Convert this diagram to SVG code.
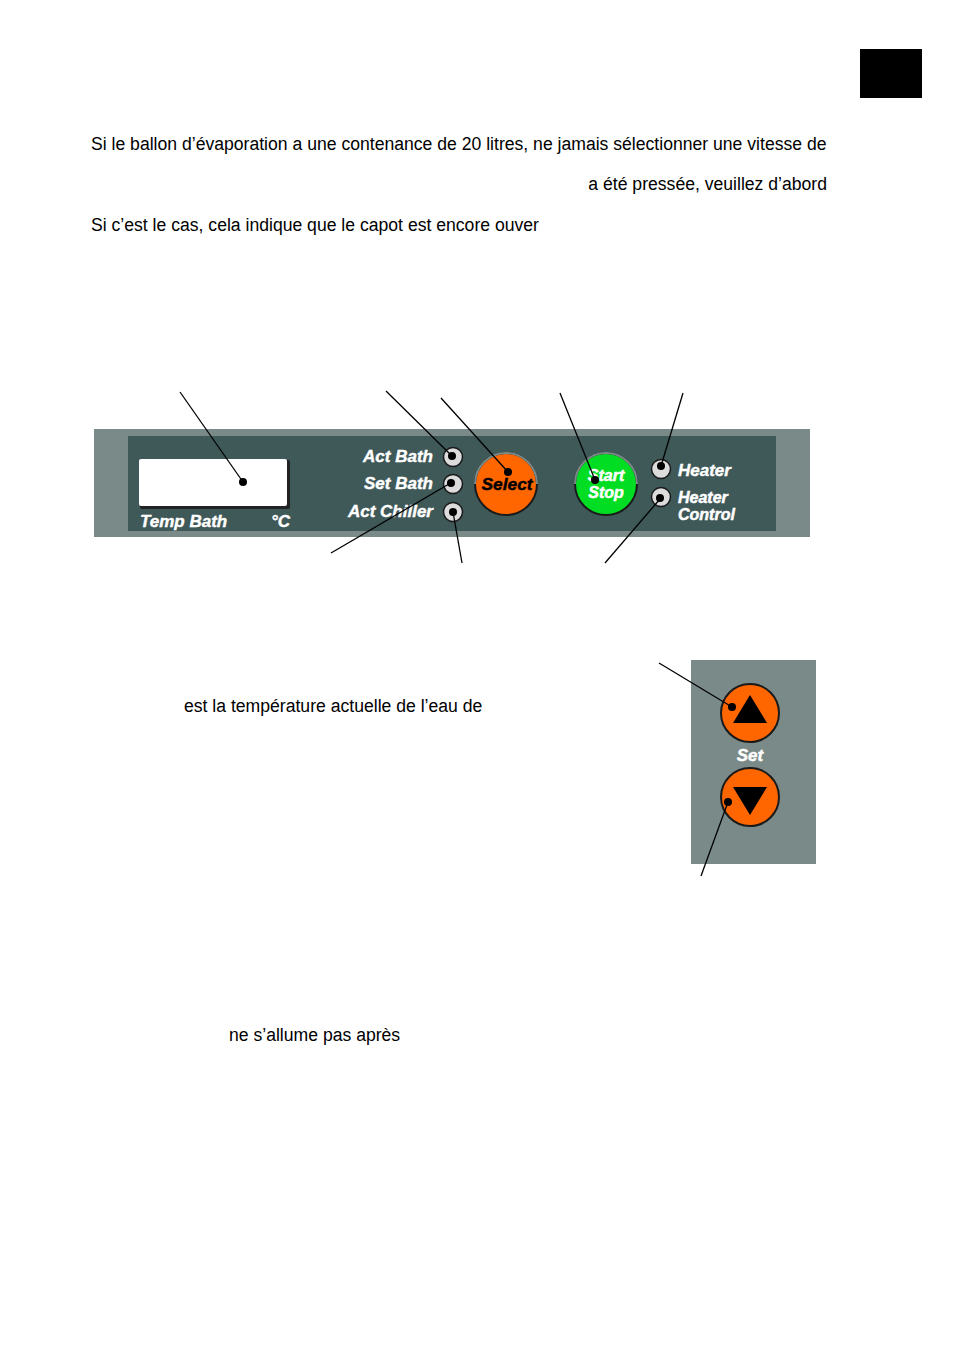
<svg xmlns="http://www.w3.org/2000/svg" width="954" height="1350" viewBox="0 0 954 1350">
<style>
.body{font-family:"Liberation Sans",Arial,sans-serif;font-size:17.6px;fill:#000}
.lbl{font-family:"Liberation Sans",Arial,sans-serif;font-weight:bold;font-style:italic;font-size:17px;fill:#fff;stroke:#fff;stroke-width:0.4}
.lbl2{font-family:"Liberation Sans",Arial,sans-serif;font-weight:bold;font-style:italic;font-size:16px;fill:#fff;stroke:#fff;stroke-width:0.5}
.ld{stroke:#000;stroke-width:1.3;fill:none}
.dot{fill:#000}
.led{fill:#dcdcdc;stroke:#1a1a1a;stroke-width:1.5}
</style>
<rect width="954" height="1350" fill="#fff"/>
<rect x="860" y="49" width="62" height="49" fill="#000"/>
<g id="texts">
<text class="body" x="91" y="150">Si le ballon d’évaporation a une contenance de 20 litres, ne jamais sélectionner une vitesse de</text>
<text class="body" x="827" y="190" text-anchor="end">a été pressée, veuillez d’abord</text>
<text class="body" x="91" y="231">Si c’est le cas, cela indique que le capot est encore ouver</text>
<text class="body" x="184" y="712">est la température actuelle de l’eau de</text>
<text class="body" x="229" y="1041">ne s’allume pas après</text>
</g>
<g id="panel">
<rect x="94" y="429" width="716" height="108" fill="#7a8a88"/>
<rect x="128" y="436" width="648" height="95" fill="#3f5858"/>
</g>
<g id="display">
<rect x="140" y="460" width="150" height="49" rx="2" fill="#222"/>
<rect x="139" y="459" width="148" height="47" rx="2" fill="#fff"/>
<text class="lbl" x="140" y="527">Temp Bath</text>
<text class="lbl" x="290" y="527" text-anchor="end">°C</text>
</g>
<g id="led-act-bath">
<circle class="led" cx="453" cy="457" r="9.5"/>
<text class="lbl" x="433" y="462" text-anchor="end">Act Bath</text>
</g>
<g id="led-set-bath">
<circle class="led" cx="453" cy="484" r="9.5"/>
<text class="lbl" x="433" y="489" text-anchor="end">Set Bath</text>
</g>
<g id="led-act-chiller">
<circle class="led" cx="453" cy="512" r="9.5"/>
<text class="lbl" x="433" y="517" text-anchor="end">Act Chiller</text>
</g>
<g id="btn-select">
<circle cx="506" cy="484" r="31" fill="#ff6600" stroke="#1a1a1a" stroke-width="2"/>
<path d="M475,484 A31,31 0 0 1 537,484" fill="none" stroke="#7a8a88" stroke-width="2"/>
<text x="507" y="490" text-anchor="middle" font-family="Liberation Sans,Arial,sans-serif" font-weight="bold" font-style="italic" font-size="17.4" fill="#000" stroke="#000" stroke-width="0.4">Select</text>
</g>
<g id="btn-start-stop">
<circle cx="606" cy="484" r="31" fill="#00dd22" stroke="#1a1a1a" stroke-width="2"/>
<path d="M575,484 A31,31 0 0 1 637,484" fill="none" stroke="#7a8a88" stroke-width="2"/>
<text class="lbl2" x="606" y="481" text-anchor="middle">Start</text>
<text class="lbl2" x="606" y="498" text-anchor="middle">Stop</text>
</g>
<g id="led-heater">
<circle class="led" cx="661" cy="469" r="9.5"/>
<text class="lbl" x="678" y="476">Heater</text>
</g>
<g id="led-heater-control">
<circle class="led" cx="661" cy="497" r="9.5"/>
<text class="lbl2" x="678" y="503">Heater</text>
<text class="lbl2" x="678" y="520">Control</text>
</g>
<g id="set-panel">
<rect x="691" y="660" width="125" height="204" fill="#7a8a88"/>
<circle cx="750" cy="713" r="29" fill="#ff6600" stroke="#1a1a1a" stroke-width="2"/>
<polygon points="750,695 767,723 733,723" fill="#000"/>
<text class="lbl" x="750" y="761" text-anchor="middle">Set</text>
<circle cx="750" cy="797" r="29" fill="#ff6600" stroke="#1a1a1a" stroke-width="2"/>
<polygon points="733,787 767,787 750,815" fill="#000"/>
</g>
<g id="connectors">
<line class="ld" x1="180" y1="392" x2="243" y2="482"/><circle class="dot" cx="243" cy="482" r="4"/>
<line class="ld" x1="386" y1="391" x2="452" y2="456"/><circle class="dot" cx="452" cy="456" r="4"/>
<line class="ld" x1="441" y1="398" x2="508" y2="472"/><circle class="dot" cx="508" cy="472" r="4"/>
<line class="ld" x1="560" y1="393" x2="595" y2="480"/><circle class="dot" cx="595" cy="480" r="4"/>
<line class="ld" x1="683" y1="393" x2="661" y2="466"/><circle class="dot" cx="661" cy="466" r="4"/>
<line class="ld" x1="331" y1="553" x2="449" y2="484"/><circle class="dot" cx="451" cy="483" r="4"/>
<line class="ld" x1="462" y1="563" x2="453" y2="512"/><circle class="dot" cx="453" cy="512" r="4"/>
<line class="ld" x1="605" y1="563" x2="660" y2="499"/><circle class="dot" cx="660" cy="498" r="4"/>
<line class="ld" x1="659" y1="663" x2="732" y2="707"/><circle class="dot" cx="732" cy="707" r="4"/>
<line class="ld" x1="701" y1="876" x2="728" y2="802"/><circle class="dot" cx="728" cy="802" r="4"/>
</g>
</svg>
